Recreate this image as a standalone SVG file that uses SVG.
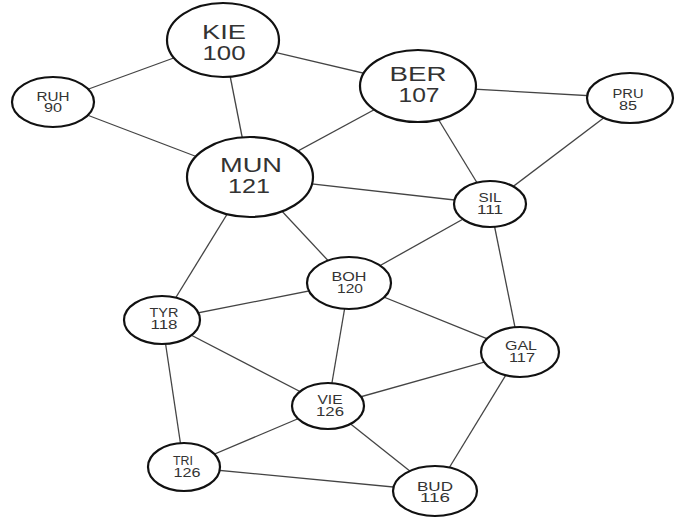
<svg xmlns="http://www.w3.org/2000/svg" width="680" height="518" viewBox="0 0 680 518">
<style>
.e{stroke:#444;stroke-width:1.3;fill:none}
.n{fill:#fff;stroke:#111;stroke-width:2.2}
.t{font-family:"Liberation Sans",Arial,sans-serif;fill:#333;text-anchor:middle}
.b{font-size:20px}
.s{font-size:12px}
</style>
<rect width="680" height="518" fill="#fff"/>
<g id="edges">
<line class="e" x1="53" y1="102" x2="223" y2="40"/>
<line class="e" x1="53" y1="102" x2="250" y2="177"/>
<line class="e" x1="223" y1="40" x2="250" y2="177"/>
<line class="e" x1="223" y1="40" x2="418" y2="86"/>
<line class="e" x1="418" y1="86" x2="250" y2="177"/>
<line class="e" x1="418" y1="86" x2="630" y2="98"/>
<line class="e" x1="418" y1="86" x2="490" y2="204"/>
<line class="e" x1="630" y1="98" x2="490" y2="204"/>
<line class="e" x1="250" y1="177" x2="490" y2="204"/>
<line class="e" x1="250" y1="177" x2="162" y2="320"/>
<line class="e" x1="250" y1="177" x2="349" y2="283"/>
<line class="e" x1="490" y1="204" x2="349" y2="283"/>
<line class="e" x1="490" y1="204" x2="520" y2="352"/>
<line class="e" x1="349" y1="283" x2="162" y2="320"/>
<line class="e" x1="349" y1="283" x2="328" y2="406"/>
<line class="e" x1="349" y1="283" x2="520" y2="352"/>
<line class="e" x1="162" y1="320" x2="328" y2="406"/>
<line class="e" x1="162" y1="320" x2="184" y2="467"/>
<line class="e" x1="520" y1="352" x2="328" y2="406"/>
<line class="e" x1="520" y1="352" x2="435" y2="491"/>
<line class="e" x1="328" y1="406" x2="184" y2="467"/>
<line class="e" x1="328" y1="406" x2="435" y2="491"/>
<line class="e" x1="184" y1="467" x2="435" y2="491"/>
</g>
<g id="KIE"><ellipse class="n" cx="223" cy="40" rx="56" ry="37"/><text class="t b" x="224" y="39" textLength="44" lengthAdjust="spacingAndGlyphs">KIE</text><text class="t b" x="224" y="60" textLength="43" lengthAdjust="spacingAndGlyphs">100</text></g>
<g id="BER"><ellipse class="n" cx="418" cy="86" rx="58" ry="36"/><text class="t b" x="418" y="81" textLength="57" lengthAdjust="spacingAndGlyphs">BER</text><text class="t b" x="419" y="102" textLength="41" lengthAdjust="spacingAndGlyphs">107</text></g>
<g id="MUN"><ellipse class="n" cx="250" cy="177" rx="63" ry="40"/><text class="t b" x="251" y="172" textLength="62" lengthAdjust="spacingAndGlyphs">MUN</text><text class="t b" x="249" y="193" textLength="42" lengthAdjust="spacingAndGlyphs">121</text></g>
<g id="RUH"><ellipse class="n" cx="53" cy="102" rx="41" ry="25"/><text class="t s" x="53" y="101" textLength="33" lengthAdjust="spacingAndGlyphs">RUH</text><text class="t s" x="53" y="112" textLength="18" lengthAdjust="spacingAndGlyphs">90</text></g>
<g id="PRU"><ellipse class="n" cx="630" cy="98" rx="43" ry="25"/><text class="t s" x="628" y="98" textLength="31" lengthAdjust="spacingAndGlyphs">PRU</text><text class="t s" x="628" y="110" textLength="18" lengthAdjust="spacingAndGlyphs">85</text></g>
<g id="SIL"><ellipse class="n" cx="490" cy="204" rx="36" ry="23"/><text class="t s" x="490" y="202" textLength="23" lengthAdjust="spacingAndGlyphs">SIL</text><text class="t s" x="490" y="214" textLength="26" lengthAdjust="spacingAndGlyphs">111</text></g>
<g id="BOH"><ellipse class="n" cx="349" cy="283" rx="42" ry="26"/><text class="t s" x="349" y="281" textLength="35" lengthAdjust="spacingAndGlyphs">BOH</text><text class="t s" x="350" y="293" textLength="26" lengthAdjust="spacingAndGlyphs">120</text></g>
<g id="TYR"><ellipse class="n" cx="162" cy="320" rx="38" ry="24"/><text class="t s" x="164" y="317" textLength="29" lengthAdjust="spacingAndGlyphs">TYR</text><text class="t s" x="164" y="329" textLength="27" lengthAdjust="spacingAndGlyphs">118</text></g>
<g id="GAL"><ellipse class="n" cx="520" cy="352" rx="39" ry="25"/><text class="t s" x="521" y="350" textLength="32" lengthAdjust="spacingAndGlyphs">GAL</text><text class="t s" x="522" y="362" textLength="26" lengthAdjust="spacingAndGlyphs">117</text></g>
<g id="VIE"><ellipse class="n" cx="328" cy="406" rx="36" ry="23"/><text class="t s" x="330" y="404" textLength="25" lengthAdjust="spacingAndGlyphs">VIE</text><text class="t s" x="330" y="416" textLength="28" lengthAdjust="spacingAndGlyphs">126</text></g>
<g id="TRI"><ellipse class="n" cx="184" cy="467" rx="36" ry="24"/><text class="t s" x="183" y="465" textLength="20" lengthAdjust="spacingAndGlyphs">TRI</text><text class="t s" x="187" y="477" textLength="27" lengthAdjust="spacingAndGlyphs">126</text></g>
<g id="BUD"><ellipse class="n" cx="435" cy="491" rx="42" ry="25"/><text class="t s" x="435" y="491" textLength="36" lengthAdjust="spacingAndGlyphs">BUD</text><text class="t s" x="435" y="502" textLength="30" lengthAdjust="spacingAndGlyphs">116</text></g>
</svg>
